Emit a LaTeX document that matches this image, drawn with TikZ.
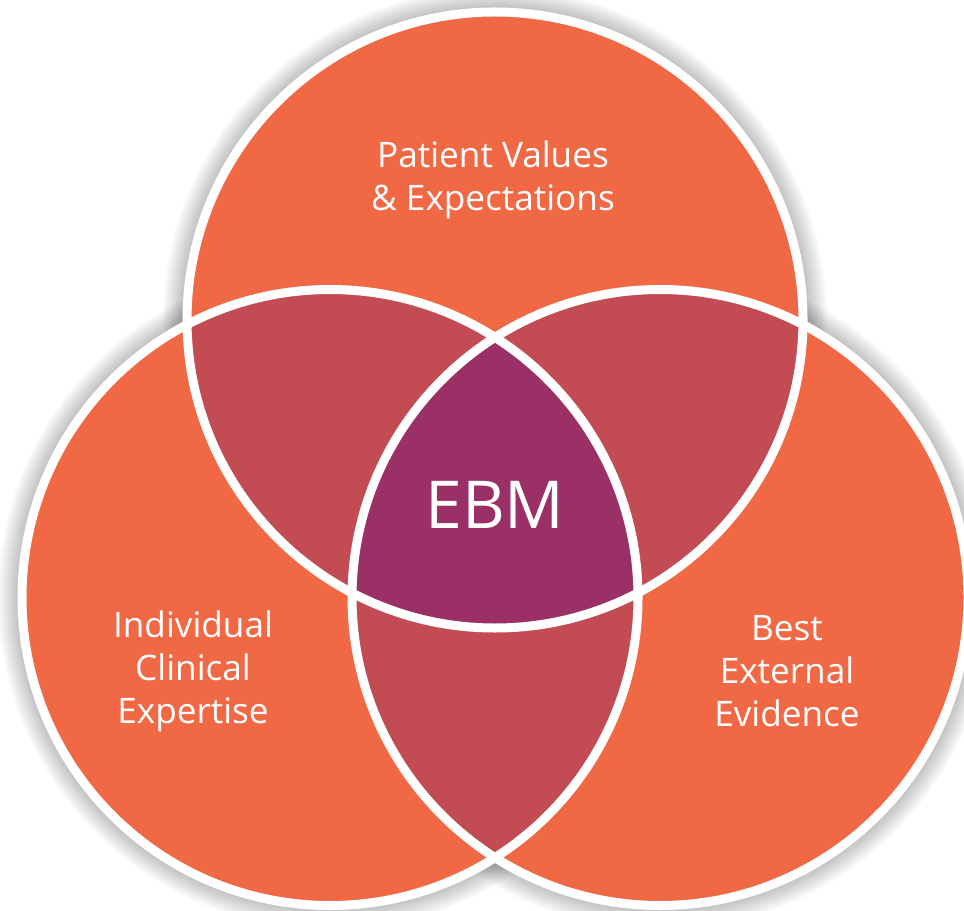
\documentclass[tikz,border=0pt]{standalone}
\usepackage{fontspec}
\setsansfont{Open Sans}
\usetikzlibrary{positioning}
\definecolor{c1}{RGB}{241,104,69}
\definecolor{c2}{RGB}{195,76,84}
\definecolor{c3}{RGB}{154,48,101}

\tikzset{
  ring/.style={draw=white,line width=0.225cm},
  lbl/.style={text=white,font=\sffamily\fontsize{25}{30.5}\selectfont,align=center},
}

\begin{document}
\begin{tikzpicture}[x=0.025cm,y=-0.025cm]
  \useasboundingbox (0,0) rectangle (964,911);
  \fill[white] (0,0) rectangle (964,911);

  % circle centres
  \coordinate (pv) at (495,320);
  \coordinate (ic) at (330,597.5);
  \coordinate (be) at (660,597.5);

  % soft grey halo
  \foreach \c in {pv,ic,be}
    \foreach \k in {1,...,10}
      \fill[black,opacity=0.022] (\c) circle[radius=312+2*\k];

  % the three sets
  \foreach \c in {pv,ic,be}
    \fill[c1] (\c) circle[radius=308];

  % pairwise overlaps
  \begin{scope}
    \clip (pv) circle[radius=308];
    \fill[c2] (ic) circle[radius=308];
    \fill[c2] (be) circle[radius=308];
  \end{scope}
  \begin{scope}
    \clip (ic) circle[radius=308];
    \fill[c2] (be) circle[radius=308];
  \end{scope}

  % centre
  \begin{scope}
    \clip (pv) circle[radius=308];
    \clip (ic) circle[radius=308];
    \fill[c3] (be) circle[radius=308];
  \end{scope}

  \foreach \c in {pv,ic,be}
    \draw[ring] (\c) circle[radius=308];

  \node[lbl] (pvtext) at (493,180) {Patient Values\\\& Expectations};
  \node[lbl] (ictext) at (193,671) {Individual\\Clinical\\Expertise};
  \node[lbl] (betext) at (787,671) {Best\\External\\Evidence};
  \node[lbl,font=\sffamily\fontsize{47}{50}\selectfont] (ebm) at (495,505) {EBM};
\end{tikzpicture}
\end{document}
